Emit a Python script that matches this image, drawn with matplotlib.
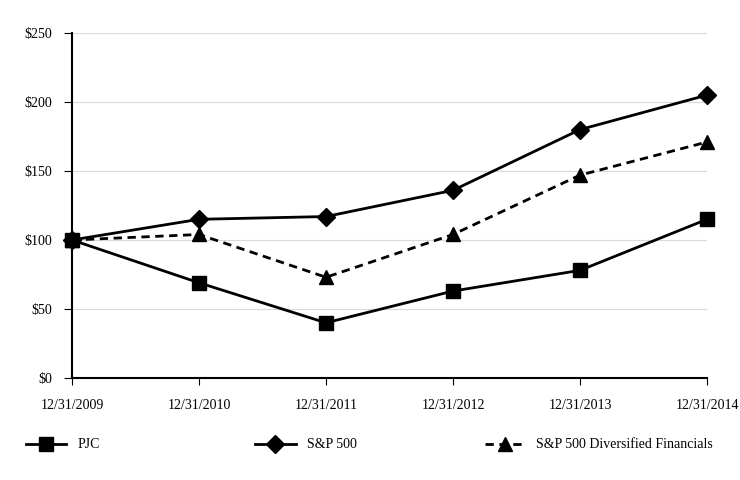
import matplotlib.pyplot as plt

dates = ['12/31/2009', '12/31/2010', '12/31/2011', '12/31/2012', '12/31/2013', '12/31/2014']
pjc = [100, 69, 40, 63, 78, 115]
sp500 = [100, 115, 117, 136, 180, 205]
sp_divfin = [100, 104, 73, 104, 147, 171]
yticks = [0, 50, 100, 150, 200, 250]

plt.rcParams['font.family'] = ['Liberation Serif', 'DejaVu Serif']

fig = plt.figure(figsize=(7.4, 4.8), dpi=100)
ax = fig.add_axes([0.0973, 0.2125, 0.8581, 0.71875])

x = range(len(dates))
l1, = ax.plot(x, pjc, color='black', lw=2, marker='s', ms=10, clip_on=False, zorder=3)
l2, = ax.plot(x, sp500, color='black', lw=2, marker='D', ms=9.5, clip_on=False, zorder=3)
l3, = ax.plot(x, sp_divfin, color='black', lw=2, ls=(0, (3, 2)), marker='^', ms=10,
              clip_on=False, zorder=3)

ax.set_xlim(0, len(dates) - 1)
ax.set_ylim(0, 250)
ax.set_xticks(list(x))
ax.set_xticklabels(dates)
ax.set_yticks(yticks)
ax.set_yticklabels(['$%d' % v for v in yticks])
ax.grid(axis='y', color='#d9d9d9', lw=0.8)
ax.set_axisbelow(True)
for s in ['top', 'right']:
    ax.spines[s].set_visible(False)
ax.spines['left'].set_linewidth(1.5)
ax.spines['bottom'].set_linewidth(1.5)
ax.tick_params(axis='x', direction='out', length=5, pad=10, labelsize=10)
ax.tick_params(axis='y', direction='out', length=6, pad=8, labelsize=10)

# three separate legend entries, placed like the original
entries = [(l1, 'PJC', 0.035), (l2, 'S&P 500', 0.345), (l3, 'S&P 500 Diversified Financials', 0.655)]
for h, lab, xpos in entries:
    fig.legend([h], [lab], loc='center left', bbox_to_anchor=(xpos, 0.073), frameon=False,
               fontsize=10, handlelength=2.9, handletextpad=0.8, borderpad=0, borderaxespad=0)

fig.savefig('out.png', dpi=100)
